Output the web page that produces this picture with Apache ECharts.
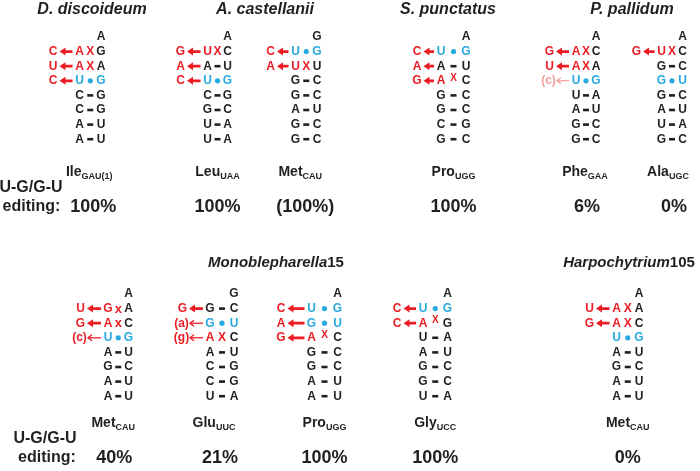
<!DOCTYPE html>
<html><head><meta charset="utf-8">
<script src="https://cdn.jsdelivr.net/npm/echarts@6/dist/echarts.min.js"></script>
<style>html,body{margin:0;padding:0;background:#fff}#c{width:700px;height:471px}</style>
</head><body><div id="c"></div>
<script>
// ---------------- DATA ----------------
// species headings
const topSpecies = ['D. discoideum', 'A. castellanii', 'S. punctatus', 'P. pallidum'];
const bottomSpecies = [['Monoblepharella', '15'], ['Harpochytrium', '105']];

// acceptor stems, top nucleotide first; rows: "edit|left sym right"
// sym: '-' Watson-Crick, 'o' wobble (U•G / G•U), 'X' mismatch, 'x' small mismatch, '^' raised mismatch
// edit prefixed with '~' = uncertain (faint) edit
const stemIleDd = ['A', 'C|AXG', 'U|AXA', 'C|UoG', '|C-G', '|C-G', '|A-U', '|A-U'];
const stemLeuAc = ['A', 'G|UXC', 'A|A-U', 'C|UoG', '|C-G', '|G-C', '|U-A', '|U-A'];
const stemMetAc = ['G', 'C|UoG', 'A|UXU', '|G-C', '|G-C', '|A-U', '|G-C', '|G-C'];
const stemProSp = ['A', 'C|UoG', 'A|A-U', 'G|A^C', '|G-C', '|G-C', '|C-G', '|G-C'];
const stemPhePp = ['A', 'G|AXC', 'U|AXA', '~(c)|UoG', '|U-A', '|A-U', '|G-C', '|G-C'];
const stemAlaPp = ['A', 'G|UXC', '|G-C', '|GoU', '|G-C', '|A-U', '|U-A', '|G-C'];
const stemMetMo = ['A', 'U|GxA', 'G|AxC', '(c)|UoG', '|A-U', '|G-C', '|A-U', '|A-U'];
const stemGluMo = ['G', 'G|G-C', '(a)|GoU', '(g)|AXC', '|A-U', '|C-G', '|C-G', '|U-A'];
const stemProMo = ['A', 'C|UoG', 'A|GoU', 'G|A^C', '|G-C', '|G-C', '|A-U', '|A-U'];
const stemGlyMo = ['A', 'C|UoG', 'C|A^G', '|U-A', '|A-U', '|G-C', '|G-C', '|U-A'];
const stemMetHa = ['A', 'U|AXA', 'G|AXC', '|UoG', '|A-U', '|G-C', '|A-U', '|A-U'];

// tRNA labels and editing levels
const topAmino = ['Ile', 'Leu', 'Met', 'Pro', 'Phe', 'Ala'];
const topAnticodon = ['GAU(1)', 'UAA', 'CAU', 'UGG', 'GAA', 'UGC'];
const topEditing = ['100%', '100%', '(100%)', '100%', '6%', '0%'];
const bottomAmino = ['Met', 'Glu', 'Pro', 'Gly', 'Met'];
const bottomAnticodon = ['CAU', 'UUC', 'UGG', 'UCC', 'CAU'];
const bottomEditing = ['40%', '21%', '100%', '100%', '0%'];
const rowCaption = ['U-G/G-U', 'editing:'];

// ---------------- LAYOUT / STYLE ----------------
const FF = '"Liberation Sans", Arial, Helvetica, sans-serif';
const RED = '#ec1c24', CYAN = '#27a9e1', BLACK = '#231f20', PALE = '#f3a0a0';
const STEP = 14.6;
const panels = [
  { y0: 37, titleY: 10, labelY: 172, capY: [188, 207], capX: [31, 31.5], titleSize: 16,
    titleX: [92, 265, 448, 632], stems: [stemIleDd, stemLeuAc, stemMetAc, stemProSp, stemPhePp, stemAlaPp],
    amino: topAmino, anti: topAnticodon, edit: topEditing,
    lay: [{R:101,gap:21.5,ed:-26.5,ldx:-1,pdx:3},{R:227.5,gap:20,ed:-27,ldx:0,pdx:0},{R:317,gap:21.5,ed:-25,ldx:-6,pdx:-1},
          {R:466,gap:25,ed:-24,ldx:0,pdx:0},{R:596,gap:20,ed:-26.5,ldx:-1,pdx:1},{R:682.5,gap:21,ed:-25,ldx:-4,pdx:2}] },
  { y0: 294, titleY: 263, labelY: 423, capY: [439, 458], capX: [45, 47], titleSize: 15,
    titleX: [276, 629], stems: [stemMetMo, stemGluMo, stemProMo, stemGlyMo, stemMetHa],
    amino: bottomAmino, anti: bottomAnticodon, edit: bottomEditing,
    lay: [{R:128.5,gap:20.5,ed:-27.5,ldx:-5,pdx:-4},{R:234,gap:24,ed:-27.5,ldx:-8,pdx:-2},{R:337.5,gap:26,ed:-30.5,ldx:0,pdx:0},
          {R:447.5,gap:24.5,ed:-26,ldx:0,pdx:0},{R:639,gap:22.5,ed:-27,ldx:0,pdx:0}] }
];

// ---------------- BUILD MARKS ----------------
const marks = [];
function txt(t, x, y, color, font, extra) {
  marks.push(Object.assign({ kind: 'text', text: t, x, y, color, font }, extra || {}));
}
const nucFont = 'bold 12px ' + FF;

function addStem(rows, lay, y0) {
  const R = lay.R, L = R - lay.gap, C = (L + R) / 2;
  rows.forEach((row, i) => {
    const y = y0 + i * STEP;
    if (i === 0) { txt(row, R, y, BLACK, nucFont); return; }
    let [edit, pair] = row.split('|');
    let pale = false;
    if (edit.startsWith('~')) { pale = true; edit = edit.slice(1); }
    const left = pair[0], sym = pair[1], right = pair[2];
    let lc = BLACK, rc = BLACK;
    if (sym === 'o') { lc = rc = CYAN; }
    else if ('Xx^'.includes(sym)) { lc = RED; }
    txt(left, L, y, lc, nucFont);
    txt(right, R, y, rc, nucFont);
    if (sym === '-') marks.push({ kind: 'dash', x: C, y });
    else if (sym === 'o') marks.push({ kind: 'dot', x: C, y });
    else if (sym === 'X') txt('X', C, y, RED, 'bold 12px ' + FF);
    else if (sym === 'x') txt('x', C, y + 0.5, RED, 'bold 13px ' + FF);
    else if (sym === '^') txt('X', C, y - 2.5, RED, 'bold 10px ' + FF);
    if (edit) {
      const ex = L + lay.ed;
      const col = pale ? PALE : RED;
      if (edit.length > 1) {
        const tx = ex - 1;
        txt(edit, tx, y, col, 'bold 12px ' + FF);
        marks.push({ kind: 'arrow', thin: true, x: tx + 8.5, x2: L - 7, y, color: col });
      } else {
        txt(edit, ex, y, col, nucFont);
        marks.push({ kind: 'arrow', thin: false, x: ex + 6.5, x2: L - 7, y, color: col });
      }
    }
  });
}

panels.forEach((pn, pi) => {
  // titles
  pn.titleX.forEach((x, k) => {
    if (pi === 0) {
      txt(topSpecies[k], x, pn.titleY, BLACK, 'italic bold ' + pn.titleSize + 'px ' + FF);
    } else {
      const sp = bottomSpecies[k];
      txt('{i|' + sp[0] + '}{n|' + sp[1] + '}', x, pn.titleY, BLACK, 'bold 15px ' + FF, {
        rich: { i: { fontStyle: 'italic', fontWeight: 'bold', fontSize: 15, fontFamily: FF, fill: BLACK },
                n: { fontWeight: 'bold', fontSize: 15, fontFamily: FF, fill: BLACK } } });
    }
  });
  pn.stems.forEach((rows, k) => {
    const lay = pn.lay[k];
    addStem(rows, lay, pn.y0);
    const C = lay.R - lay.gap / 2;
    txt('{m|' + pn.amino[k] + '}{s|' + pn.anti[k] + '}', C + lay.ldx, pn.labelY, BLACK, 'bold 14px ' + FF, {
      rich: { m: { fontSize: 14, fontWeight: 'bold', fontFamily: FF, lineHeight: 18, fill: BLACK },
              s: { fontSize: 9, fontWeight: 'bold', fontFamily: FF, lineHeight: 10, verticalAlign: 'bottom', fill: BLACK } } });
    txt(pn.edit[k], C + lay.pdx, pn.capY[1], BLACK, 'bold 18px ' + FF);
  });
  txt(rowCaption[0], pn.capX[0], pn.capY[0], BLACK, 'bold 16px ' + FF);
  txt(rowCaption[1], pn.capX[1], pn.capY[1], BLACK, 'bold 16px ' + FF);
});

// ---------------- RENDER ----------------
function renderItem(params, api) {
  const m = marks[api.value(2)];
  const p = api.coord([api.value(0), api.value(1)]);
  if (m.kind === 'text') {
    return { type: 'text', x: p[0], y: p[1], style: { text: m.text, fill: m.color, font: m.font,
      align: 'center', verticalAlign: 'middle', rich: m.rich } };
  }
  if (m.kind === 'dash') {
    return { type: 'rect', shape: { x: p[0] - 3, y: p[1] - 1.3, width: 6, height: 2.6 }, style: { fill: BLACK } };
  }
  if (m.kind === 'dot') {
    return { type: 'circle', shape: { cx: p[0], cy: p[1], r: 2.6 }, style: { fill: CYAN } };
  }
  // arrow pointing left: p = tip, q = tail
  const q = api.coord([m.x2, api.value(1)]);
  const tip = p[0], tail = q[0], y = p[1];
  if (m.thin) {
    return { type: 'group', children: [
      { type: 'line', shape: { x1: tip + 0.5, y1: y, x2: tail, y2: y }, style: { stroke: m.color, lineWidth: 1.3 } },
      { type: 'polyline', shape: { points: [[tip + 4, y - 3], [tip, y], [tip + 4, y + 3]] },
        style: { stroke: m.color, lineWidth: 1.3, fill: null } } ] };
  }
  return { type: 'polygon', shape: { points: [[tip, y], [tip + 6, y - 4], [tip + 6, y - 1.4], [tail, y - 1.4],
    [tail, y + 1.4], [tip + 6, y + 1.4], [tip + 6, y + 4]] }, style: { fill: m.color } };
}

const chart = echarts.init(document.getElementById('c'), null, { renderer: 'canvas' });
chart.setOption({
  animation: false,
  backgroundColor: '#ffffff',
  grid: { left: 0, right: 0, top: 0, bottom: 0 },
  xAxis: { type: 'value', min: 0, max: 700, show: false },
  yAxis: { type: 'value', min: 0, max: 471, inverse: true, show: false },
  series: [{
    type: 'custom', silent: true, clip: false,
    renderItem,
    encode: { x: 0, y: 1 },
    data: marks.map((m, i) => [m.x, m.y, i])
  }]
});
</script></body></html>
